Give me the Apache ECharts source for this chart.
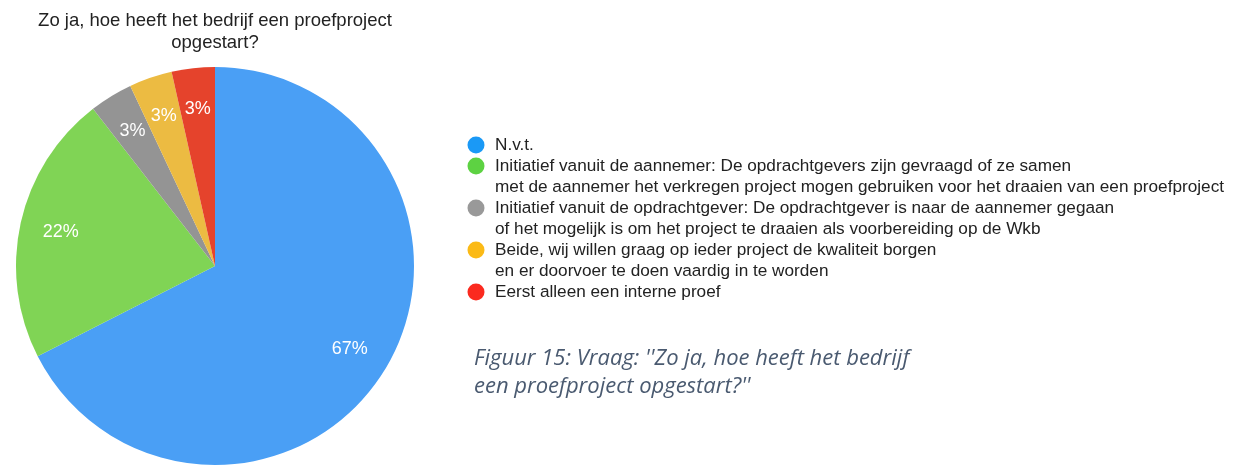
<!DOCTYPE html>
<html>
<head>
<meta charset="utf-8">
<title>Proefproject</title>
<script src="https://cdn.jsdelivr.net/npm/echarts@6/dist/echarts.min.js"></script>
<style>
  html, body { margin: 0; padding: 0; background: #fff; }
  #chart { width: 1240px; height: 466px; }
</style>
</head>
<body>
<div id="chart"></div>
<script>
// categories (legend text, as in the picture)
const categories = [
  "N.v.t.",
  "Initiatief vanuit de aannemer: De opdrachtgevers zijn gevraagd of ze samen\nmet de aannemer het verkregen project mogen gebruiken voor het draaien van een proefproject",
  "Initiatief vanuit de opdrachtgever: De opdrachtgever is naar de aannemer gegaan\nof het mogelijk is om het project te draaien als voorbereiding op de Wkb",
  "Beide, wij willen graag op ieder project de kwaliteit borgen\nen er doorvoer te doen vaardig in te worden",
  "Eerst alleen een interne proef"
];
// slice sizes
const shares = [67.5, 22, 3.5, 3.5, 3.5];
// labels printed on the slices
const shareLabels = ["67%", "22%", "3%", "3%", "3%"];
const colors = ["#4a9ff5", "#80d455", "#949494", "#ecbb42", "#e5432c"];
// the legend dots are a bit brighter than the slices
const dotColors = ["#1a99f6", "#5dd242", "#999999", "#fbba16", "#fb2a1f"];

const chartTitle = "Zo ja, hoe heeft het bedrijf een proefproject\nopgestart?";
const caption = "Figuur 15: Vraag: ''Zo ja, hoe heeft het bedrijf\neen proefproject opgestart?''";

const pieData = categories.map((name, i) => ({ name: name, value: shares[i] }));

// legend drawn by hand so the dot sits next to the first line of each item
// (the built-in legend centres the dot on multi-line text)
const legendLeft = 468;
const legendFirstLine = 145;
const legendLineStep = 21;
const legendItems = [];
let lineY = legendFirstLine;
categories.forEach((name, i) => {
  legendItems.push({
    type: "circle",
    shape: { cx: legendLeft + 8, cy: lineY, r: 8.5 },
    style: { fill: dotColors[i] }
  });
  legendItems.push({
    type: "text",
    x: legendLeft + 27,
    y: lineY - legendLineStep / 2,
    style: {
      text: name,
      fill: "#222",
      fontFamily: "Liberation Sans",
      fontSize: 17.2,
      lineHeight: legendLineStep,
      verticalAlign: "top"
    }
  });
  lineY += name.split("\n").length * legendLineStep;
});

const chart = echarts.init(document.getElementById("chart"));
chart.setOption({
  animation: false,
  color: colors,
  title: [
    {
      text: chartTitle,
      left: 210,
      top: 5,
      textAlign: "center",
      textStyle: {
        fontFamily: "Liberation Sans",
        fontSize: 18.5,
        fontWeight: "normal",
        color: "#222",
        lineHeight: 22
      }
    },
    {
      text: caption,
      left: 469,
      top: 340,
      textStyle: {
        fontFamily: "Open Sans",
        fontStyle: "italic",
        fontWeight: "normal",
        fontSize: 22,
        color: "#4a5a70",
        lineHeight: 28
      }
    }
  ],
  graphic: legendItems,
  series: [
    {
      type: "pie",
      center: [215, 266],
      radius: 199,
      startAngle: 90,
      silent: true,
      label: { show: false },
      labelLine: { show: false },
      data: pieData
    },
    {
      // transparent copy, only carries the slice labels at ~0.78 r
      type: "pie",
      center: [215, 266],
      radius: [111, 199],
      startAngle: 90,
      silent: true,
      itemStyle: { color: "rgba(0,0,0,0)" },
      label: {
        show: true,
        position: "inside",
        color: "#fff",
        fontFamily: "Liberation Sans",
        fontSize: 18,
        formatter: p => shareLabels[p.dataIndex]
      },
      labelLine: { show: false },
      data: pieData
    }
  ]
});
</script>
</body>
</html>
